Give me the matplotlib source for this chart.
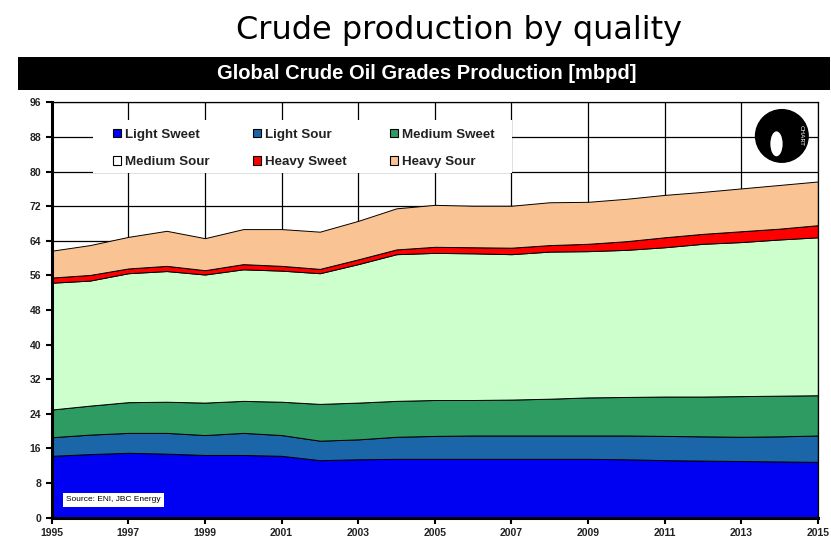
import matplotlib.pyplot as plt
from matplotlib.patches import Rectangle, Patch, Ellipse

years = list(range(1995, 2016))
light_sweet = [14.3, 14.7, 15.0, 14.8, 14.5, 14.5, 14.3, 13.3, 13.5, 13.6, 13.6,
               13.6, 13.6, 13.6, 13.6, 13.5, 13.3, 13.2, 13.1, 13.0, 12.9]
light_sour = [4.3, 4.5, 4.6, 4.8, 4.6, 5.1, 4.8, 4.5, 4.6, 5.1, 5.3,
              5.4, 5.4, 5.4, 5.4, 5.5, 5.6, 5.6, 5.6, 5.8, 6.1]
medium_sweet = [6.4, 6.7, 7.1, 7.2, 7.5, 7.4, 7.7, 8.5, 8.5, 8.3, 8.3,
                8.2, 8.3, 8.5, 8.8, 8.9, 9.1, 9.2, 9.4, 9.4, 9.3]
medium_sour = [29.3, 28.9, 29.8, 30.2, 29.6, 30.4, 30.3, 30.2, 32.0, 33.9, 34.0,
               33.9, 33.6, 34.0, 33.8, 34.0, 34.5, 35.3, 35.6, 36.1, 36.5]
heavy_sweet = [1.2, 1.3, 1.1, 1.2, 1.0, 1.2, 1.1, 1.0, 1.1, 1.1, 1.4,
               1.4, 1.5, 1.5, 1.7, 2.0, 2.3, 2.3, 2.5, 2.5, 2.8]
heavy_sour = [6.2, 6.9, 7.3, 8.1, 7.4, 8.1, 8.5, 8.6, 8.9, 9.5, 9.7,
              9.6, 9.7, 9.9, 9.7, 9.8, 9.8, 9.7, 9.9, 10.1, 10.1]

labels = ['Light Sweet', 'Light Sour', 'Medium Sweet', 'Medium Sour', 'Heavy Sweet', 'Heavy Sour']
colors = ['#0000F2', '#1A66A8', '#2E9B62', '#CCFFCC', '#FF0000', '#F9C393']
legend_colors = ['#0000F2', '#1A66A8', '#2E9B62', '#FFFFFF', '#FF0000', '#F9C393']

fig = plt.figure(figsize=(8.31, 5.43), dpi=100)
fig.text(0.553, 0.943, 'Crude production by quality', ha='center', va='center',
         fontsize=23, family='DejaVu Sans')

# black banner
fig.patches.append(Rectangle((0.0217, 0.834), 0.977, 0.0608, transform=fig.transFigure,
                             facecolor='black', edgecolor='none'))
fig.text(0.513, 0.864, 'Global Crude Oil Grades Production [mbpd]', ha='center', va='center',
         color='white', fontsize=14.5, fontweight='bold', family='Liberation Sans')

ax = fig.add_axes([0.0622, 0.0466, 0.922, 0.765])
ax.stackplot(years, light_sweet, light_sour, medium_sweet, medium_sour, heavy_sweet, heavy_sour,
             colors=colors, edgecolor='black', linewidth=0.7, zorder=2)
ax.set_xlim(1995, 2015)
ax.set_ylim(0, 96)
ax.set_yticks(range(0, 97, 8))
ax.set_xticks(range(1995, 2016, 2))
ax.grid(True, color='black', linewidth=0.9)
ax.set_axisbelow(True)
for lab in ax.get_xticklabels() + ax.get_yticklabels():
    lab.set_fontweight('bold')
    lab.set_family('Liberation Sans')
    lab.set_color('#222222')
ax.tick_params(axis='both', labelsize=7.5, length=4, width=1.5, color='black')
ax.spines['left'].set_linewidth(2.2)
ax.spines['bottom'].set_linewidth(2.2)
ax.spines['top'].set_linewidth(0.9)
ax.spines['right'].set_linewidth(0.9)

# white box behind legend
ax.add_patch(Rectangle((0.054, 0.83), 0.547, 0.127, transform=ax.transAxes,
                       facecolor='white', edgecolor='none', zorder=1.5))
# legend fills column by column, so reorder to get rows as in the original
order = [0, 3, 1, 4, 2, 5]
handles = [Patch(facecolor=legend_colors[i], edgecolor='black', linewidth=0.8) for i in order]
leg = ax.legend(handles, [labels[i] for i in order], ncol=3, loc='upper left',
                bbox_to_anchor=(0.071, 0.952), frameon=False, borderpad=0,
                handlelength=0.6, handleheight=0.6, handletextpad=0.35,
                columnspacing=3.2, labelspacing=1.15,
                prop={'family': 'Liberation Sans', 'weight': 'bold', 'size': 9.6})
for t in leg.get_texts():
    t.set_color('#222222')

# logo
ax.add_patch(Ellipse((0.953, 0.919), 0.0705, 0.130, transform=ax.transAxes, facecolor='black',
                     edgecolor='none', zorder=3))
ax.add_patch(Ellipse((0.946, 0.9), 0.016, 0.06, transform=ax.transAxes, facecolor='white',
                     edgecolor='none', zorder=3.5))
ax.text(0.978, 0.919, 'CHART', transform=ax.transAxes, rotation=-90, fontsize=4.5,
        color='white', ha='center', va='center', zorder=4)

ax.text(0.019, 0.043, 'Source: ENI, JBC Energy', transform=ax.transAxes, fontsize=6,
        family='Liberation Sans', va='center', ha='left', zorder=4,
        bbox=dict(facecolor='white', edgecolor='none', pad=2.5))

fig.savefig('out.png', dpi=100)
